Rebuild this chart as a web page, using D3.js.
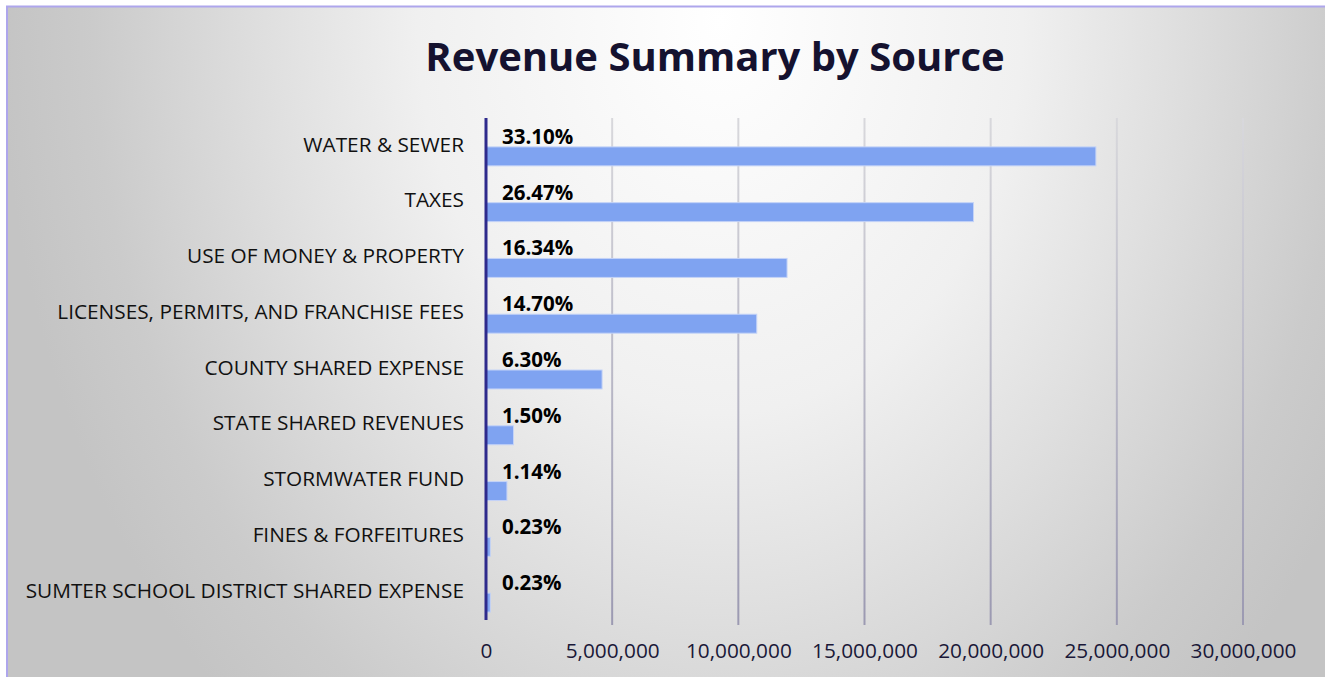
<!DOCTYPE html>
<html lang="en">
<head>
    <meta charset="UTF-8">
    <title>Revenue Summary by Source</title>
    <style>
        body{
            margin: 0;
            background-color: #fff;
        }
        svg{
            display: block;
        }
        .cat text{
            font-family: "Open Sans", sans-serif;
            font-size: 20.8px;
            fill: #111;
        }
        .xaxis text{
            font-family: "Open Sans", sans-serif;
            font-size: 20.8px;
            fill: #1a1838;
        }
    </style>
</head>
<body>

<div id="chart"></div>

<script src="https://cdn.jsdelivr.net/npm/d3@7/dist/d3.min.js"></script>
<script>
    var width = 1325, height = 677;

    // data
    var categories = ['WATER & SEWER', 'TAXES', 'USE OF MONEY & PROPERTY',
        'LICENSES, PERMITS, AND FRANCHISE FEES', 'COUNTY SHARED EXPENSE',
        'STATE SHARED REVENUES', 'STORMWATER FUND', 'FINES & FORFEITURES',
        'SUMTER SCHOOL DISTRICT SHARED EXPENSE'];
    var amounts = [24170000, 19320000, 11930000, 10730000, 4600000,
        1090000, 830000, 170000, 170000];
    var shares = ['33.10%', '26.47%', '16.34%', '14.70%', '6.30%',
        '1.50%', '1.14%', '0.23%', '0.23%'];
    var ticks = [0, 5000000, 10000000, 15000000, 20000000, 25000000, 30000000];

    var plot = {left: 486, right: 1243, top: 118, bottom: 620};

    var svg = d3.select('#chart')
        .append('svg')
        .attr('width', width)
        .attr('height', height);

    var defs = svg.append('defs');
    var bg = defs.append('radialGradient')
        .attr('id', 'bg')
        .attr('gradientUnits', 'userSpaceOnUse')
        .attr('cx', 720).attr('cy', 20).attr('r', 720)
        .attr('gradientTransform', 'translate(0,20) scale(1,1.3) translate(0,-20)');
    bg.append('stop').attr('offset', '0%').attr('stop-color', '#ffffff');
    bg.append('stop').attr('offset', '42%').attr('stop-color', '#f0f0f0');
    bg.append('stop').attr('offset', '62%').attr('stop-color', '#e0e0e0');
    bg.append('stop').attr('offset', '87%').attr('stop-color', '#cbcbcb');
    bg.append('stop').attr('offset', '100%').attr('stop-color', '#c4c4c4');

    var gl = defs.append('linearGradient')
        .attr('id', 'grid')
        .attr('gradientUnits', 'userSpaceOnUse')
        .attr('x1', 0).attr('y1', plot.top)
        .attr('x2', 0).attr('y2', plot.bottom);
    gl.append('stop').attr('offset', '0%').attr('stop-color', '#d8d8dc');
    gl.append('stop').attr('offset', '100%').attr('stop-color', '#9c9ab2');

    // chart area
    svg.append('rect')
        .attr('x', 7).attr('y', 6)
        .attr('width', width - 7).attr('height', height - 6)
        .attr('fill', 'url(#bg)');
    svg.append('path')
        .attr('d', 'M7,' + height + 'V6.5H' + width)
        .attr('fill', 'none')
        .attr('stroke', '#aea6ec')
        .attr('stroke-width', 2);

    // title
    svg.append('text')
        .attr('x', 715)
        .attr('y', 71)
        .attr('text-anchor', 'middle')
        .attr('font-family', '"Open Sans", sans-serif')
        .attr('font-weight', 'bold')
        .attr('font-size', '40px')
        .attr('fill', '#15122f')
        .text('Revenue Summary by Source');

    var xScale = d3.scaleLinear()
        .domain([0, 30000000])
        .range([plot.left, plot.right]);

    var yScale = d3.scaleBand()
        .domain(categories)
        .range([plot.top, plot.bottom]);

    var band = yScale.bandwidth();
    var gap = band * 0.32;
    var slot = (band - gap) / 2;

    // gridlines
    svg.append('g')
        .selectAll('line')
        .data(ticks.slice(1))
        .enter()
        .append('line')
        .attr('x1', function(d){ return xScale(d); })
        .attr('x2', function(d){ return xScale(d); })
        .attr('y1', plot.top)
        .attr('y2', plot.bottom + 5)
        .attr('stroke', 'url(#grid)')
        .attr('stroke-width', 2);

    // x axis labels
    var xAxis = d3.axisBottom(xScale)
        .tickValues(ticks)
        .tickSize(0)
        .tickPadding(23)
        .tickFormat(d3.format(','));
    var xAxisG = svg.append('g')
        .attr('class', 'xaxis')
        .attr('transform', 'translate(0,' + plot.bottom + ')')
        .call(xAxis);
    xAxisG.select('.domain').remove();

    // bars
    svg.selectAll('.bar')
        .data(amounts)
        .enter()
        .append('rect')
        .attr('class', 'bar')
        .attr('x', xScale(0))
        .attr('y', function(d, i){ return yScale(categories[i]) + gap / 2 + slot + 1; })
        .attr('width', function(d){ return xScale(d) - xScale(0); })
        .attr('height', slot)
        .attr('fill', '#7fa3f1')
        .attr('stroke', '#c4d3f7')
        .attr('stroke-width', 1);

    // percentage labels
    svg.selectAll('.share')
        .data(shares)
        .enter()
        .append('text')
        .attr('class', 'share')
        .attr('x', xScale(0) + 16)
        .attr('y', function(d, i){ return yScale(categories[i]) + gap / 2 + slot - 2; })
        .attr('font-family', '"Open Sans", sans-serif')
        .attr('font-weight', 'bold')
        .attr('font-size', '20.5px')
        .attr('fill', '#000')
        .text(function(d){ return d; });

    // category axis
    var yAxis = d3.axisLeft(yScale)
        .tickSize(0)
        .tickPadding(22);
    var yAxisG = svg.append('g')
        .attr('class', 'cat')
        .attr('transform', 'translate(' + plot.left + ',0)')
        .call(yAxis);
    yAxisG.select('.domain').remove();
    yAxisG.selectAll('text').attr('dy', '0.27em');

    svg.append('line')
        .attr('x1', xScale(0)).attr('x2', xScale(0))
        .attr('y1', plot.top).attr('y2', plot.bottom)
        .attr('stroke', '#2e2a8c')
        .attr('stroke-width', 3);
</script>

</body>
</html>
